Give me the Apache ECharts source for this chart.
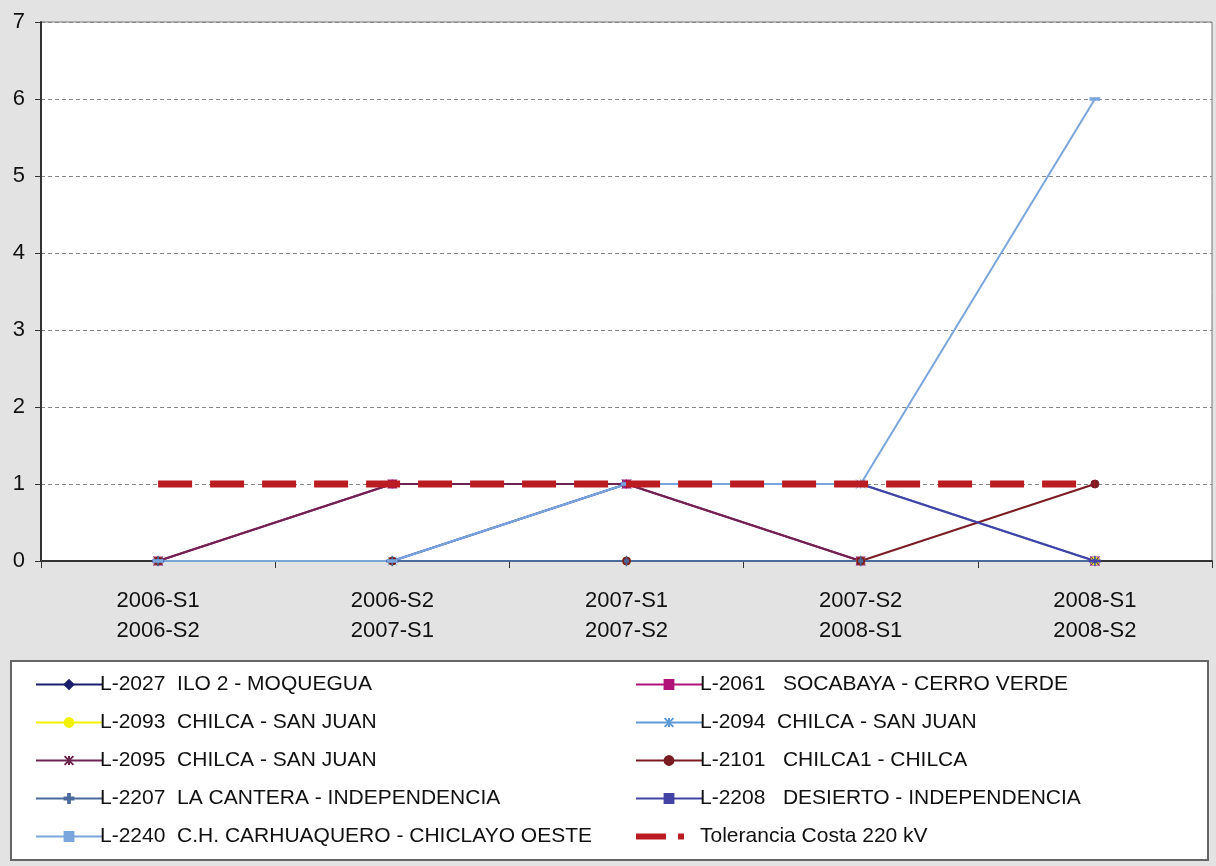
<!DOCTYPE html>
<html>
<head>
<meta charset="utf-8">
<title>Tolerancia Costa 220 kV</title>
<script src="https://cdn.jsdelivr.net/npm/echarts@6/dist/echarts.min.js"></script>
<style>
  html, body { margin: 0; padding: 0; background: #fff; }
  #main { width: 1216px; height: 866px; }
</style>
</head>
<body>
<div id="main"></div>
<script>
// categorias (periodos)
var periodos = ['2006-S1\n2006-S2', '2006-S2\n2007-S1', '2007-S1\n2007-S2', '2007-S2\n2008-S1', '2008-S1\n2008-S2'];

// valores de cada linea
var l2027 = [0, 0, 0, 0, 0];
var l2061 = [0, 1, 1, 0, 0];
var l2093 = [0, 0, 0, 0, 0];
var l2094 = [0, 0, 1, 1, 0];
var l2095 = [0, 1, 1, 0, 0];
var l2101 = [0, 0, 0, 0, 1];
var l2207 = [0, 0, 0, 0, 0];
var l2208 = [0, 0, 1, 1, 0];
var l2240 = [0, 0, 1, 1, 6];
var tolerancia = [1, 1, 1, 1, 1];

var yTicks = [0, 1, 2, 3, 4, 5, 6, 7];

var starPath = 'path://M0,0L10,10M10,0L0,10M5,0L5,10';
var plusPath = 'path://M4,0H6V4H10V6H6V10H4V6H0V4H4Z';

var fuente = 'Liberation Sans, Arial, sans-serif';

var linea = function (nombre, datos, color, symbol, size) {
	return {
		name: nombre,
		type: 'line',
		data: datos,
		symbol: symbol,
		symbolSize: size,
		showAllSymbol: true,
		lineStyle: { color: color, width: 2 },
		itemStyle: { color: color, borderColor: color, borderWidth: 1 },
		emphasis: { disabled: true },
		animation: false
	};
};

var series = [
	linea('L-2027  ILO 2 - MOQUEGUA', l2027, '#1c1f6b', 'diamond', 8),
	linea('L-2061   SOCABAYA - CERRO VERDE', l2061, '#b0127a', 'rect', 8),
	linea('L-2093  CHILCA - SAN JUAN', l2093, '#f2f200', 'circle', 8),
	linea('L-2094  CHILCA - SAN JUAN', l2094, '#5f9bd6', starPath, 9),
	linea('L-2095  CHILCA - SAN JUAN', l2095, '#6e2450', starPath, 9),
	linea('L-2101   CHILCA1 - CHILCA', l2101, '#7a1c22', 'circle', 8),
	linea('L-2207  LA CANTERA - INDEPENDENCIA', l2207, '#4b6b9c', plusPath, [4, 9]),
	linea('L-2208   DESIERTO - INDEPENDENCIA', l2208, '#4343a6', 'rect', [8, 2]),
	linea('L-2240  C.H. CARHUAQUERO - CHICLAYO OESTE', l2240, '#7aa6dc', 'rect', [9, 3]),
	{
		name: 'Tolerancia Costa 220 kV',
		type: 'line',
		data: tolerancia,
		symbol: 'none',
		lineStyle: { color: '#bb1c22', width: 7, type: [34, 18] },
		itemStyle: { color: '#bb1c22' },
		emphasis: { disabled: true },
		animation: false,
		z: 5
	}
];

var leyenda = function (left, nombres) {
	return {
		orient: 'vertical',
		left: left,
		top: 668,
		itemWidth: 66,
		itemHeight: 11,
		itemGap: 15,
		selectedMode: false,
		data: nombres,
		textStyle: { fontFamily: fuente, fontSize: 21, color: '#111', padding: [0, 0, 0, -7], lineHeight: 23 }
	};
};

var chart = echarts.init(document.getElementById('main'));
chart.setOption({
	backgroundColor: '#e3e3e3',
	animation: false,
	graphic: [
		{ type: 'rect', shape: { x: 11, y: 661, width: 1197, height: 199 },
		  style: { fill: '#ffffff', stroke: '#666', lineWidth: 2 }, z: -1 }
	],
	legend: [
		leyenda(30, ['L-2027  ILO 2 - MOQUEGUA', 'L-2093  CHILCA - SAN JUAN', 'L-2095  CHILCA - SAN JUAN',
			'L-2207  LA CANTERA - INDEPENDENCIA', 'L-2240  C.H. CARHUAQUERO - CHICLAYO OESTE']),
		leyenda(628, ['L-2061   SOCABAYA - CERRO VERDE', 'L-2094  CHILCA - SAN JUAN', 'L-2101   CHILCA1 - CHILCA',
			'L-2208   DESIERTO - INDEPENDENCIA',
			{ name: 'Tolerancia Costa 220 kV', itemStyle: { opacity: 0 },
			  lineStyle: { width: 6, type: [30, 12, 6, 40] } }])
	],
	grid: {
		left: 41, right: 4, top: 22, bottom: 305,
		show: true, backgroundColor: '#ffffff', borderColor: '#777', borderWidth: 1
	},
	xAxis: {
		type: 'category',
		boundaryGap: true,
		data: periodos,
		axisLine: { lineStyle: { color: '#333', width: 2 } },
		axisTick: { show: true, length: 7, lineStyle: { color: '#333' } },
		axisLabel: { fontFamily: fuente, fontSize: 22, color: '#111', lineHeight: 30, margin: 25 }
	},
	yAxis: {
		type: 'value',
		min: yTicks[0],
		max: yTicks[yTicks.length - 1],
		interval: 1,
		axisLine: { show: true, lineStyle: { color: '#333', width: 2 } },
		axisTick: { show: true, length: 6, lineStyle: { color: '#333' } },
		axisLabel: { fontFamily: fuente, fontSize: 22, color: '#111', margin: 16 },
		splitLine: { lineStyle: { color: '#888', type: [4, 3] } }
	},
	series: series
});
</script>
</body>
</html>
